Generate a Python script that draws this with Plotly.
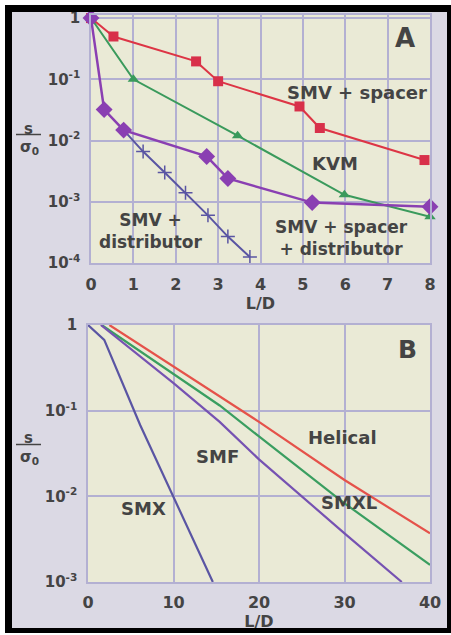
import plotly.graph_objects as go

W, H = 451, 635

# ---------------- Panel A data ----------------
ld_spacer = [0, 0.53, 2.48, 3.0, 4.92, 5.4, 7.87]
s_spacer = [1, 0.5, 0.196, 0.093, 0.036, 0.016, 0.0048]

ld_kvm = [0, 1.0, 3.46, 5.98, 8.0]
s_kvm = [1, 0.1, 0.012, 0.0013, 0.00057]

ld_spacer_dist = [0, 0.31, 0.77, 2.73, 3.23, 5.22, 8.0]
s_spacer_dist = [1, 0.032, 0.0148, 0.0055, 0.0024, 0.00097, 0.00083]

ld_dist = [0.77, 1.23, 1.74, 2.23, 2.76, 3.23, 3.75]
s_dist = [0.0148, 0.0066, 0.0030, 0.0014, 0.0006, 0.00027, 0.000125]

# ---------------- Panel B data ----------------
ld_helical = [2.5, 15.4, 20, 30, 40]
s_helical = [1, 0.145, 0.074, 0.0155, 0.0037]

ld_smxl = [1.6, 15.4, 20, 30, 40]
s_smxl = [1, 0.115, 0.050, 0.0083, 0.00158]

ld_smf = [1.5, 10, 15.4, 20, 30, 36.7]
s_smf = [1, 0.21, 0.074, 0.027, 0.0037, 0.001]

ld_smx = [0, 1.9, 6.1, 10, 14.6]
s_smx = [1, 0.67, 0.068, 0.0100, 0.001]

yticks_a = [1e-4, 1e-3, 1e-2, 1e-1, 1]
yticks_a_text = ["10<sup>-4</sup>", "10<sup>-3</sup>", "10<sup>-2</sup>", "10<sup>-1</sup>", "1"]
yticks_b = [1e-3, 1e-2, 1e-1, 1]
yticks_b_text = ["10<sup>-3</sup>", "10<sup>-2</sup>", "10<sup>-1</sup>", "1"]
xticks_a = [0, 1, 2, 3, 4, 5, 6, 7, 8]
xticks_b = [0, 10, 20, 30, 40]

# ---------------- styling ----------------
FONT = "DejaVu Sans"
TXT = "#444444"
GRID = "#b3b0d2"
PLOTBG = "#eaead6"
OUTER = "#dbd9e4"

RED = "#dd3545"
GREEN = "#3a9a5c"
VIOLET = "#8a3fb2"
BLUEV = "#5a55a3"


def fx(x):
    return x / W


def fy(y):
    return 1 - y / H


fig = go.Figure()

# Panel A traces
fig.add_trace(go.Scatter(x=ld_spacer, y=s_spacer, mode="lines+markers", xaxis="x", yaxis="y",
                         line=dict(color=RED, width=2),
                         marker=dict(symbol="square", size=10, color="#d8304a"), cliponaxis=False))
fig.add_trace(go.Scatter(x=ld_kvm, y=s_kvm, mode="lines+markers", xaxis="x", yaxis="y",
                         line=dict(color=GREEN, width=2),
                         marker=dict(symbol="triangle-up", size=10, color=GREEN), cliponaxis=False))
fig.add_trace(go.Scatter(x=ld_dist, y=s_dist, mode="lines+markers", xaxis="x", yaxis="y",
                         line=dict(color=BLUEV, width=2),
                         marker=dict(symbol="cross-thin", size=10, color=BLUEV,
                                     line=dict(color=BLUEV, width=1.5)), cliponaxis=False))
fig.add_trace(go.Scatter(x=ld_spacer_dist, y=s_spacer_dist, mode="lines+markers", xaxis="x", yaxis="y",
                         line=dict(color=VIOLET, width=2.5),
                         marker=dict(symbol="diamond", size=13, color=VIOLET), cliponaxis=False))

# Panel B traces
fig.add_trace(go.Scatter(x=ld_helical, y=s_helical, mode="lines", xaxis="x2", yaxis="y2",
                         line=dict(color="#e5524a", width=2.2), cliponaxis=False))
fig.add_trace(go.Scatter(x=ld_smxl, y=s_smxl, mode="lines", xaxis="x2", yaxis="y2",
                         line=dict(color="#3a9e60", width=2.2), cliponaxis=False))
fig.add_trace(go.Scatter(x=ld_smf, y=s_smf, mode="lines", xaxis="x2", yaxis="y2",
                         line=dict(color="#7652b2", width=2.2), cliponaxis=False))
fig.add_trace(go.Scatter(x=ld_smx, y=s_smx, mode="lines", xaxis="x2", yaxis="y2",
                         line=dict(color=BLUEV, width=2.2), cliponaxis=False))

tickfont_y = dict(family=FONT, size=15, color=TXT, weight="bold")
tickfont_x = dict(family=FONT, size=16, color=TXT, weight="bold")
titlefont = dict(family=FONT, size=16, color=TXT, weight="bold")
axis_common = dict(showline=True, mirror=True, linecolor=GRID, linewidth=1.5, automargin=False,
                   showgrid=True, gridcolor=GRID, gridwidth=1.5, zeroline=False, ticks="")

fig.update_layout(
    width=W, height=H,
    margin=dict(l=0, r=0, t=0, b=0, pad=0, autoexpand=False),
    paper_bgcolor=OUTER,
    plot_bgcolor=PLOTBG,
    showlegend=False,
    xaxis=dict(domain=[fx(91), fx(430)], range=[0, 8], tickvals=xticks_a, anchor="y",
               title=dict(text="L/D", font=titlefont, standoff=2),
               ticklabelstandoff=6, tickfont=tickfont_x, **axis_common),
    yaxis=dict(domain=[fy(263), fy(15)], type="log", range=[-4, 0.05], tickvals=yticks_a,
               ticktext=yticks_a_text, anchor="x", ticklabelstandoff=6, tickfont=tickfont_y,
               **axis_common),
    xaxis2=dict(domain=[fx(88), fx(430)], range=[0, 40], tickvals=xticks_b, anchor="y2",
                title=dict(text="L/D", font=titlefont, standoff=1),
                ticklabelstandoff=5, tickfont=tickfont_x, **axis_common),
    yaxis2=dict(domain=[fy(582), fy(325)], type="log", range=[-3, 0], tickvals=yticks_b,
                ticktext=yticks_b_text, anchor="x2", ticklabelstandoff=6, tickfont=tickfont_y,
                **axis_common),
)


# Frame: white margin + black border around the lavender background
def rect(x0, y0, x1, y1, color):
    fig.add_shape(type="rect", xref="paper", yref="paper", x0=fx(x0), x1=fx(x1), y0=fy(y1), y1=fy(y0),
                  fillcolor=color, line=dict(width=0), layer="above")


rect(0, 0, 451, 5, "white")
rect(0, 0, 5, 635, "white")
rect(0, 633, 451, 635, "white")
rect(5, 5, 451, 12, "black")
rect(5, 5, 12, 633, "black")
rect(447, 5, 451, 633, "black")
rect(5, 628, 451, 633, "black")


def note(text, x, y, size=18):
    fig.add_annotation(text=text, x=fx(x), y=fy(y), xref="paper", yref="paper",
                       xanchor="center", yanchor="middle", showarrow=False, align="center",
                       font=dict(family=FONT, size=size, color=TXT, weight="bold"))


# Panel A labels
note("A", 405, 38, 26)
note("SMV + spacer", 357, 92)
note("KVM", 335, 164)
note("SMV +<br>distributor", 151, 231, 17)
note("SMV + spacer<br>+ distributor", 341, 238, 17)

# Panel B labels
note("B", 407, 349, 25)
note("Helical", 342, 437)
note("SMF", 217, 456)
note("SMXL", 349, 503)
note("SMX", 143, 508)

# y-axis fraction titles  s / σ0
for ys, yb, yo in [(129, 134.5, 147), (438, 444.5, 457)]:
    note("s", 28, ys, 15)
    fig.add_shape(type="line", xref="paper", yref="paper", x0=fx(16), x1=fx(41), y0=fy(yb), y1=fy(yb),
                  line=dict(color=TXT, width=1.5))
    note("σ<sub>0</sub>", 30, yo, 15)

fig.write_html("out.html")
